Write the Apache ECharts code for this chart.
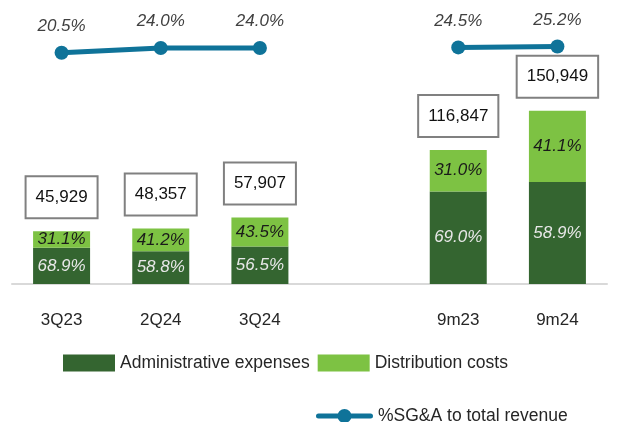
<!DOCTYPE html>
<html>
<head>
<meta charset="utf-8">
<script src="https://cdn.jsdelivr.net/npm/echarts@6/dist/echarts.min.js"></script>
<style>
  html, body { margin: 0; padding: 0; background: #fff; }
  #chart { width: 622px; height: 422px; }
</style>
</head>
<body>
<div id="chart"></div>
<script>
// 数据
var categories = ['3Q23', '2Q24', '3Q24', '', '9m23', '9m24'];
var adminValues = [31645, 28434, 32717, '-', 80624, 88909];
var distValues = [14284, 19923, 25190, '-', 36223, 62040];
var totals = [45929, 48357, 57907, '-', 116847, 150949];
var adminShare = [68.9, 58.8, 56.5, '-', 69.0, 58.9];
var distShare = [31.1, 41.2, 43.5, '-', 31.0, 41.1];
var sgaRatio = [20.5, 24.0, 24.0, '-', 24.5, 25.2];

var font = 'Liberation Sans, Arial, sans-serif';
// 图例里的折线图标：粗线 + 圆点
var lineIcon = 'path://M2.5,4.5 L54.5,4.5 A2.5,2.5 0 0 1 54.5,9.5 L2.5,9.5 A2.5,2.5 0 0 1 2.5,4.5 Z ' +
    'M21.5,7 A7,7 0 1 1 35.5,7 A7,7 0 1 1 21.5,7 Z';

var myChart = echarts.init(document.getElementById('chart'));

var option = {
    animation: false,
    textStyle: { fontFamily: font },
    grid: { left: 12, right: 15, top: 20, bottom: 138 },
    legend: [{
        data: ['Administrative expenses', 'Distribution costs'],
        left: 63,
        top: 354,
        padding: 0,
        icon: 'rect',
        itemWidth: 52,
        itemHeight: 17,
        itemGap: 8,
        textStyle: { fontSize: 17.5, color: '#262626' }
    }, {
        data: [{ name: '%SG&A to total revenue', icon: lineIcon }],
        left: 316,
        top: 407,
        padding: 0,
        itemWidth: 57,
        itemHeight: 14,
        textStyle: { fontSize: 17.5, color: '#262626' }
    }],
    xAxis: {
        type: 'category',
        data: categories,
        axisLine: { lineStyle: { color: '#d9d9d9', width: 2 } },
        axisTick: { show: false },
        axisLabel: { fontSize: 17, color: '#262626', margin: 28 }
    },
    yAxis: [{
        type: 'value',
        min: 0,
        max: 230000,
        show: false
    }, {
        type: 'value',
        min: -151.7,
        max: 44.9,
        show: false
    }],
    series: [{
        name: 'Administrative expenses',
        type: 'bar',
        stack: 'sga',
        barWidth: 57,
        data: adminValues,
        itemStyle: { color: '#346530' },
        label: {
            show: true,
            position: 'inside',
            fontSize: 17,
            fontStyle: 'italic',
            color: '#e8e8e8',
            formatter: function (p) { return adminShare[p.dataIndex].toFixed(1) + '%'; }
        }
    }, {
        name: 'Distribution costs',
        type: 'bar',
        stack: 'sga',
        barWidth: 57,
        data: distValues,
        itemStyle: { color: '#7dc243' },
        label: {
            show: true,
            position: 'inside',
            fontSize: 17,
            fontStyle: 'italic',
            color: '#1a1a1a',
            formatter: function (p) { return distShare[p.dataIndex].toFixed(1) + '%'; }
        }
    }, {
        name: 'total',
        type: 'bar',
        barWidth: 57,
        barGap: '-100%',
        data: totals,
        itemStyle: { color: 'rgba(0,0,0,0)' },
        silent: true,
        label: {
            show: true,
            position: 'top',
            distance: 14,
            fontSize: 17,
            color: '#111',
            lineHeight: 20,
            backgroundColor: '#fff',
            borderColor: '#808080',
            borderWidth: 2,
            padding: [10, 9],
            formatter: function (p) { return p.value.toLocaleString('en-US'); }
        }
    }, {
        name: '%SG&A to total revenue',
        type: 'line',
        yAxisIndex: 1,
        data: sgaRatio,
        connectNulls: false,
        symbol: 'circle',
        symbolSize: 14,
        lineStyle: { color: '#0f7399', width: 5 },
        itemStyle: { color: '#0f7399' },
        label: {
            show: true,
            position: 'top',
            distance: 11,
            fontSize: 17,
            fontStyle: 'italic',
            color: '#404040',
            formatter: function (p) { return p.value.toFixed(1) + '%'; }
        }
    }]
};

myChart.setOption(option);
</script>
</body>
</html>
